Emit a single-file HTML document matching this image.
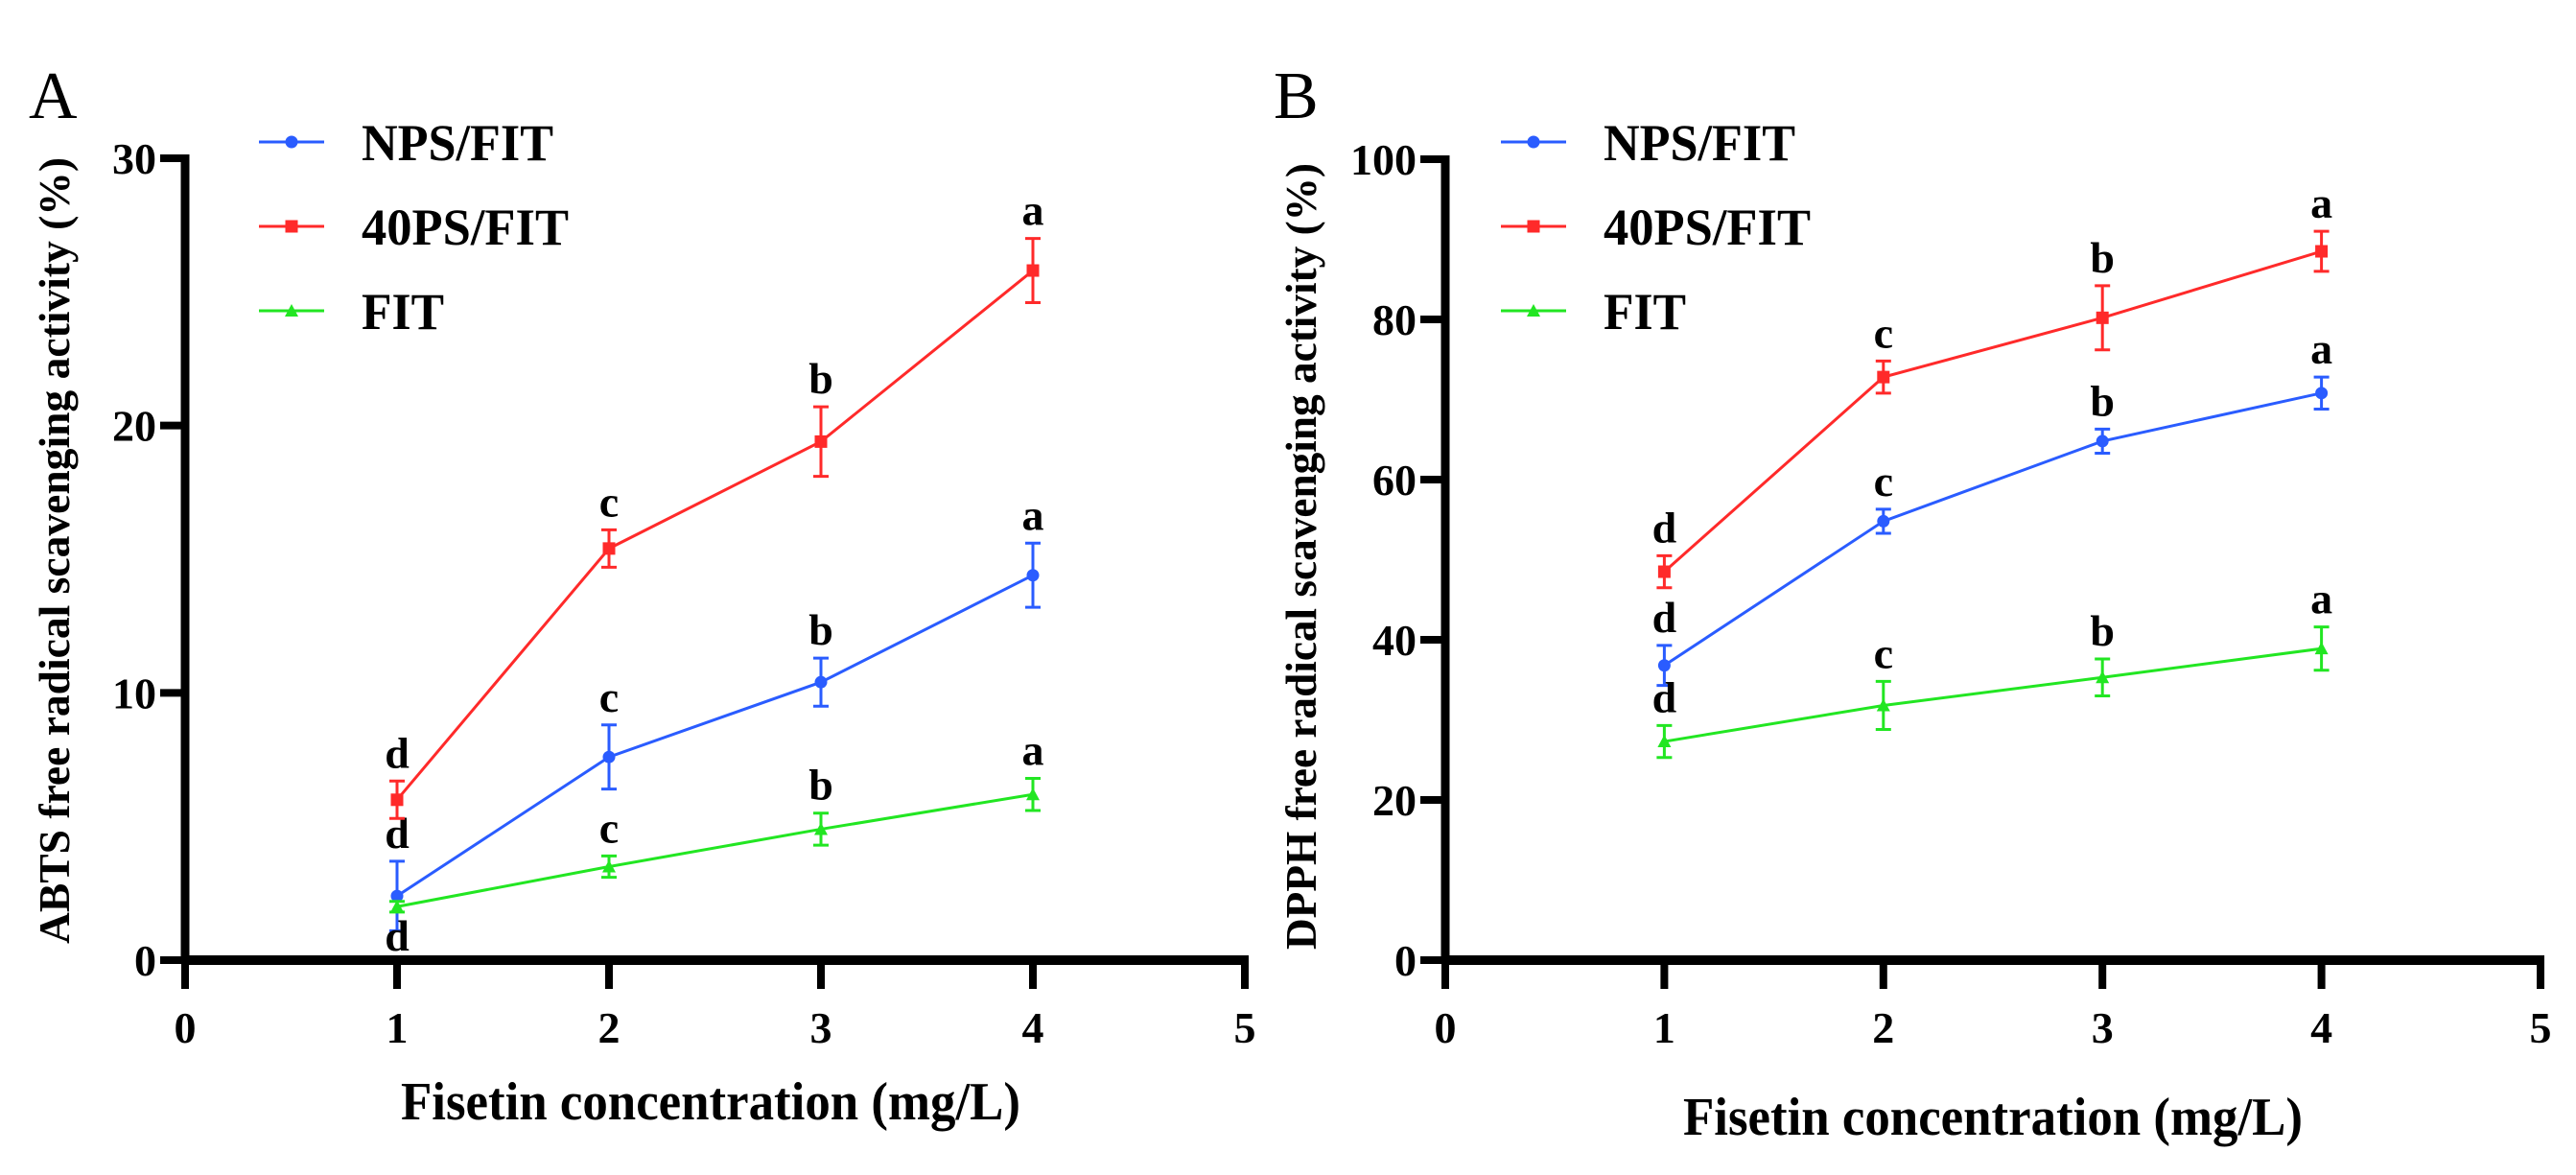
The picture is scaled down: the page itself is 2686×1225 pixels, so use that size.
<!DOCTYPE html>
<html><head><meta charset="utf-8"><style>
html,body{margin:0;padding:0;background:#fff;}
svg{display:block;}
svg text{font-family:"Liberation Serif","Times New Roman",serif;}
</style></head><body>
<svg id="chart" width="2686" height="1225" viewBox="0 0 2686 1225"></svg>
<script>
const xCats=[1,2,3,4];
const xTicks=[0,1,2,3,4,5];
const aTicks=[0,10,20,30];
const bTicks=[0,20,40,60,80,100];
const seriesNames=["NPS/FIT","40PS/FIT","FIT"];
const aNPS=[2.4,7.6,10.4,14.4];
const aNPSerr=[1.3,1.2,0.9,1.2];
const a40=[6.0,15.4,19.4,25.8];
const a40err=[0.7,0.7,1.3,1.2];
const aFIT=[2.0,3.5,4.9,6.2];
const aFITerr=[0.2,0.4,0.6,0.6];
const bNPS=[36.8,54.8,64.8,70.8];
const bNPSerr=[2.5,1.5,1.5,2.0];
const b40=[48.5,72.8,80.2,88.5];
const b40err=[2.0,2.0,4.0,2.5];
const bFIT=[27.3,31.8,35.3,38.9];
const bFITerr=[2.0,3.0,2.3,2.7];
const letters=["d","c","b","a"];
const colors=["#2a5cff","#ff2a2a","#22e622"];
const legendWidths=[200,216,86];
const NS="http://www.w3.org/2000/svg";
const svg=document.getElementById('chart');
function mk(tag,attrs,parent,text){const e=document.createElementNS(NS,tag);for(const k in attrs)e.setAttribute(k,attrs[k]);if(text!==undefined)e.textContent=text;(parent||svg).appendChild(e);return e;}

function panel(o){
  const g=mk('g',{});
  
  
  const X=v=>o.x0+v*o.dx;
  const Y=v=>o.y0-(v/o.ymax)*(o.y0-o.ytop);
  const t=mk('text',{x:o.lx,y:123,'font-size':70},g,o.id.toUpperCase());
  
  
  const ya=mk('line',{x1:o.x0,y1:Y(o.ymax)-4,x2:o.x0,y2:o.y0,stroke:'#000','stroke-width':9},g);
  
  
  const xa=mk('line',{x1:o.x0-4,y1:o.y0,x2:X(5)+4,y2:o.y0,stroke:'#000','stroke-width':10},g);
  
  
  o.yt.forEach(v=>{
    const l=mk('line',{x1:o.x0-26,y1:Y(v),x2:o.x0,y2:Y(v),stroke:'#000','stroke-width':8},g);
    
    
    const tx=mk('text',{x:o.x0-30,y:Y(v)+16,'text-anchor':'end','font-size':46,'font-weight':'bold'},g,v);
    
    
  });
  xTicks.forEach(v=>{
    const l=mk('line',{x1:X(v),y1:o.y0,x2:X(v),y2:o.y0+30,stroke:'#000','stroke-width':8},g);
    
    
    const tx=mk('text',{x:X(v),y:1087,'text-anchor':'middle','font-size':46,'font-weight':'bold'},g,v);
    
    
  });
  const xt=mk('text',{x:o.xtx,y:o.xty,'text-anchor':'middle','font-size':56,'font-weight':'bold',textLength:646,lengthAdjust:'spacingAndGlyphs'},g,'Fisetin concentration (mg/L)');
  
  
  const yt=mk('text',{x:0,y:0,'text-anchor':'middle','font-size':46,'font-weight':'bold',textLength:820,lengthAdjust:'spacingAndGlyphs','transform':`translate(${o.ytx},${o.yty}) rotate(-90)`},g,o.ytitle);
  
  
  seriesNames.forEach((n,i)=>{
    const ly=148+i*88;
    const lg=mk('g',{},g);
    
    
    mk('line',{x1:o.legx,y1:ly,x2:o.legx+68,y2:ly,stroke:colors[i],'stroke-width':3},lg);
    marker(lg,o.legx+34,ly,i);
    mk('text',{x:o.legx+107,y:ly+19,'font-size':54,'font-weight':'bold',textLength:legendWidths[i],lengthAdjust:'spacingAndGlyphs'},lg,n);
  });
  o.series.forEach((s,i)=>{
    const sg=mk('g',{},g);
    
    
    const pts=xCats.map((c,k)=>X(c)+','+Y(s.v[k])).join(' ');
    mk('polyline',{points:pts,fill:'none',stroke:colors[i],'stroke-width':3},sg);
    xCats.forEach((c,k)=>{
      const x=X(c),t=Y(s.v[k]+s.e[k]),b=Y(s.v[k]-s.e[k]);
      const eb=mk('path',{d:`M${x},${t}V${b}M${x-8},${t}H${x+8}M${x-8},${b}H${x+8}`,stroke:colors[i],'stroke-width':3,fill:'none'},sg);
      
      
      marker(sg,x,Y(s.v[k]),i);
      let ly=t-14;
      if(s.below&&k===0) ly=b+40;
      const lt=mk('text',{x:x,y:ly,'text-anchor':'middle','font-size':46,'font-weight':'bold'},sg,letters[k]);
      
      
    });
  });
}
function marker(p,x,y,i){
  let m;
  if(i===0) m=mk('circle',{cx:x,cy:y,r:6.5,fill:colors[i]},p);
  else if(i===1) m=mk('rect',{x:x-6.5,y:y-6.5,width:13,height:13,fill:colors[i]},p);
  else m=mk('path',{d:`M${x},${y-7}L${x+7},${y+6}L${x-7},${y+6}Z`,fill:colors[i]},p);
  
  
}
panel({id:'a',lx:30,x0:193,dx:221,y0:1001,ytop:165,ymax:30,yt:aTicks,legx:270,xtx:741,xty:1167,ytx:72,yty:574,
  ytitle:'ABTS free radical scavenging activity (%)',
  series:[{v:aNPS,e:aNPSerr},{v:a40,e:a40err},{v:aFIT,e:aFITerr,below:true}]});
panel({id:'b',lx:1328,x0:1507,dx:228.4,y0:1001,ytop:166,ymax:100,yt:bTicks,legx:1565,xtx:2078,xty:1183,ytx:1372,yty:580,
  ytitle:'DPPH free radical scavenging activity (%)',
  series:[{v:bNPS,e:bNPSerr},{v:b40,e:b40err},{v:bFIT,e:bFITerr}]});
</script>
</body></html>
